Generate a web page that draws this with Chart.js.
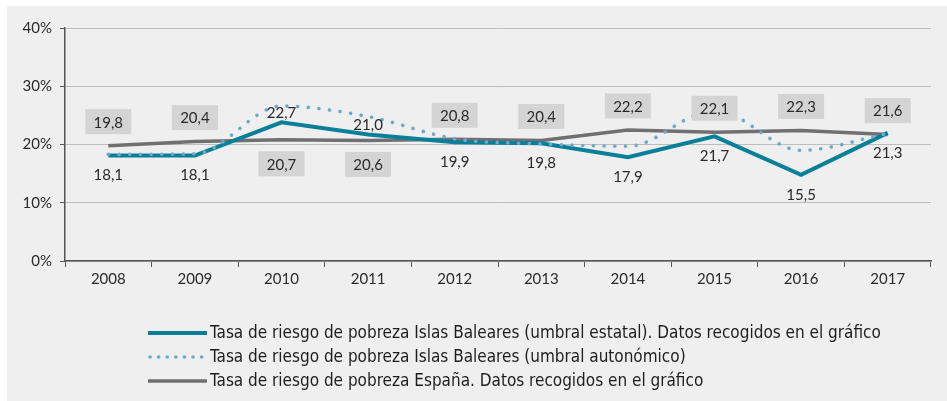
<!DOCTYPE html>
<html>
<head>
<meta charset="utf-8">
<script src="https://cdn.jsdelivr.net/npm/chart.js@4.4.1/dist/chart.umd.min.js"></script>
<style>
  html, body { margin: 0; padding: 0; background: #ffffff; }
  #wrap { position: absolute; left: 7px; top: 6px; width: 940px; height: 395px; background: #efefef; }
</style>
</head>
<body>
<div id="wrap"><canvas id="chart"></canvas></div>
<script>
// datos
const years = ['2008', '2009', '2010', '2011', '2012', '2013', '2014', '2015', '2016', '2017'];

// umbral estatal (linea continua azul)
const balearesEstatal = [18.1, 18.1, 23.8, 21.7, 20.4, 20.2, 17.8, 21.4, 14.8, 22.0];
const balearesEstatalLabels = ['18,1', '18,1', '22,7', '21,0', '19,9', '19,8', '17,9', '21,7', '15,5', '21,3'];

// umbral autonomico (linea punteada)
const balearesAutonomico = [18.3, 18.4, 26.6, 24.8, 21.0, 20.1, 19.7, 25.9, 19.0, 21.9];

// España (linea gris)
const espana = [19.8, 20.5, 20.8, 20.7, 20.9, 20.7, 22.5, 22.1, 22.4, 21.7];
const espanaLabels = ['19,8', '20,4', '20,7', '20,6', '20,8', '20,4', '22,2', '22,1', '22,3', '21,6'];

const seriesNames = [
  'Tasa de riesgo de pobreza Islas Baleares (umbral estatal). Datos recogidos en el gráfico',
  'Tasa de riesgo de pobreza Islas Baleares (umbral autonómico)',
  'Tasa de riesgo de pobreza España. Datos recogidos en el gráfico'
];

const teal = '#0a7f99';
const dotBlue = '#6eaac8';
const grey = '#707072';
const textColor = '#2a2a2a';

// en 2010 y 2011 los labels van al reves
const flipped = [2, 3];

// labels con los valores
const valueLabels = {
  id: 'valueLabels',
  afterDatasetsDraw(chart) {
    const ctx = chart.ctx;
    const xs = chart.scales.x;
    const ys = chart.scales.y;
    ctx.save();
    ctx.font = '15px Lato';
    ctx.textAlign = 'center';
    ctx.textBaseline = 'middle';
    for (let i = 0; i < years.length; i++) {
      const px = xs.getPixelForValue(i);
      const flip = flipped.includes(i);
      const gy = ys.getPixelForValue(espana[i]) + (flip ? 24 : -24);
      ctx.fillStyle = '#d4d4d4';
      ctx.fillRect(px - 23, gy - 12.5, 46, 25);
      ctx.fillStyle = textColor;
      ctx.fillText(espanaLabels[i], px, gy + 1);
      const ty = ys.getPixelForValue(balearesEstatal[i]) + (flip ? -9 : 20);
      ctx.fillText(balearesEstatalLabels[i], px, ty);
    }
    ctx.restore();
  }
};

// leyenda debajo del grafico
const legendRows = {
  id: 'legendRows',
  afterDraw(chart) {
    const ctx = chart.ctx;
    ctx.save();
    ctx.font = '17px "Liberation Sans Narrow", "DejaVu Sans Condensed", sans-serif';
    ctx.textAlign = 'left';
    ctx.textBaseline = 'middle';
    seriesNames.forEach((name, row) => {
      const ds = chart.data.datasets.find(s => s.label === name);
      const y = 327 + row * 24;
      ctx.beginPath();
      ctx.strokeStyle = ds.borderColor;
      ctx.lineWidth = ds.borderWidth;
      ctx.lineCap = ds.borderCapStyle || 'butt';
      ctx.setLineDash(ds.borderDash ? [0.1, 8.5] : []);
      ctx.moveTo(row === 1 ? 143 : 141, y);
      ctx.lineTo(200, y);
      ctx.stroke();
      ctx.setLineDash([]);
      ctx.fillStyle = '#1e1e1e';
      ctx.fillText(name, 203, y + 1);
    });
    ctx.restore();
  }
};

new Chart(document.getElementById('chart'), {
  type: 'line',
  data: {
    labels: years,
    datasets: [
      {
        label: seriesNames[2],
        data: espana,
        borderColor: grey,
        borderWidth: 3.5,
        pointRadius: 0,
        tension: 0,
        order: 3
      },
      {
        label: seriesNames[0],
        data: balearesEstatal,
        borderColor: teal,
        borderWidth: 4,
        pointRadius: 0,
        tension: 0,
        order: 2
      },
      {
        label: seriesNames[1],
        data: balearesAutonomico,
        borderColor: dotBlue,
        borderWidth: 3.6,
        borderDash: [0.1, 10.6],
        borderCapStyle: 'round',
        pointRadius: 0,
        cubicInterpolationMode: 'monotone',
        order: 1
      }
    ]
  },
  options: {
    responsive: true,
    maintainAspectRatio: false,
    animation: false,
    layout: { padding: { top: 22, right: 16, left: 0, bottom: 0 } },
    plugins: {
      legend: { display: false },
      tooltip: { enabled: false }
    },
    scales: {
      x: {
        offset: true,
        afterFit: s => { s.height = 140; },
        grid: {
          offset: true,
          drawOnChartArea: false,
          drawTicks: true,
          tickLength: 6,
          tickColor: '#555555',
          tickWidth: 1
        },
        border: { color: '#555555', width: 1.5 },
        ticks: {
          color: textColor,
          font: { family: 'Lato', size: 15 },
          padding: 3,
          maxRotation: 0
        }
      },
      y: {
        min: 0,
        max: 40,
        afterFit: s => { s.width = 58; },
        grid: {
          color: '#bdbdbd',
          borderDash: [1, 2],
          tickBorderDash: [],
          tickColor: '#555555',
          tickLength: 5,
          lineWidth: 1
        },
        border: { color: '#555555', width: 1.5 },
        ticks: {
          stepSize: 10,
          color: textColor,
          font: { family: 'Lato', size: 15 },
          padding: 8,
          callback: v => v + '%'
        }
      }
    }
  },
  plugins: [valueLabels, legendRows]
});
</script>
</body>
</html>
